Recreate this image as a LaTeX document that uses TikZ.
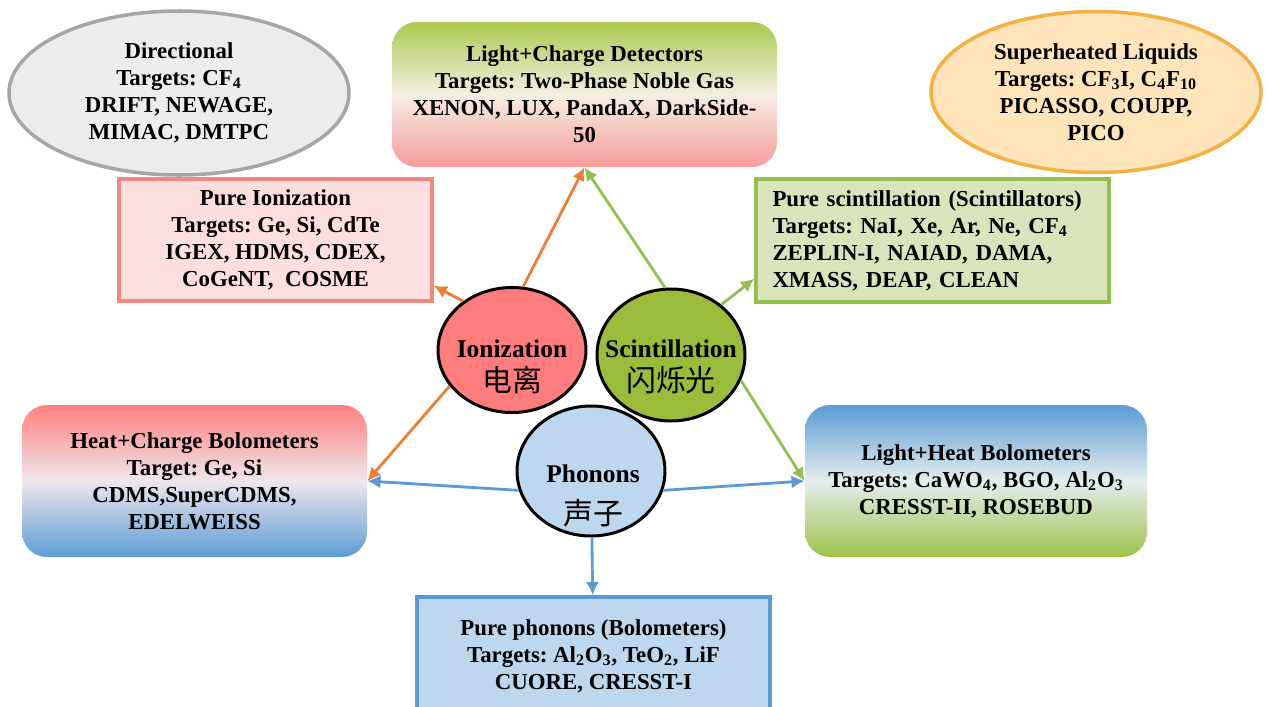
\documentclass[tikz,border=0pt]{standalone}
\usepackage{fontspec}
\setmainfont{Liberation Serif}
\newfontfamily\cjk{Noto Sans CJK SC}
\usetikzlibrary{shapes.geometric, arrows, arrows.meta}
\frenchspacing

\definecolor{ionred}{HTML}{FF7C7C}
\definecolor{scingreen}{HTML}{9BBB3B}
\definecolor{phonblue}{HTML}{BDD7EE}
\definecolor{arrorange}{HTML}{ED7D31}
\definecolor{arrgreen}{HTML}{92C050}
\definecolor{arrblue}{HTML}{5B9BD5}

\tikzstyle{channel} = [ellipse, draw=black, line width=1.7pt, minimum width=2.96cm, minimum height=2.5cm]
\tikzstyle{chantext} = [align=center, font=\fontsize{14.5}{19}\selectfont\bfseries]
\tikzstyle{expbox} = [rectangle, align=center, line width=2pt, font=\fontsize{13}{15.4}\selectfont\bfseries]
\tikzstyle{gradbox} = [rectangle, rounded corners=0.5cm, align=center, font=\fontsize{13}{15.4}\selectfont\bfseries]
\tikzstyle{expoval} = [ellipse, align=center, line width=2pt, font=\fontsize{13}{15.4}\selectfont\bfseries]
\tikzstyle{arrowo} = [line width=1.6pt, draw=arrorange, ->, >={Latex[length=7.5pt, width=7.5pt]}]
\tikzstyle{arrowg} = [line width=1.6pt, draw=arrgreen, ->, >={Latex[length=7.5pt, width=7.5pt]}]
\tikzstyle{arrowb} = [line width=1.6pt, draw=arrblue, ->, >={Latex[length=7.5pt, width=7.5pt]}]

\newcommand{\zh}[1]{{\cjk\fontsize{17}{19}\selectfont\mdseries #1}}

\begin{document}
\begin{tikzpicture}[node distance=5cm]

        \useasboundingbox (0,0) rectangle (25.36,-14.14);

        % the three signal channels
        \node (ion) [channel, fill=ionred] at (10.24,-7.0) {};
        \node (scin) [channel, fill=scingreen, minimum height=2.64cm, right of=ion, xshift=-1.82cm, yshift=-0.1cm] {};
        \node (phon) [channel, fill=phonblue, minimum height=2.6cm, below of=ion, xshift=1.58cm, yshift=2.58cm] {};

        \node (iontext) [chantext] at ([yshift=-0.34cm]ion) {Ionization\\\zh{电离}};
        \node (scintext) [chantext] at ([yshift=-0.24cm]scin) {Scintillation\\\zh{闪烁光}};
        \node (phontext) [chantext] at ([xshift=0.04cm, yshift=-0.5cm]phon) {Phonons\\[5pt]\zh{声子}};

        % detectors
        \node (lcd) [gradbox, minimum width=7.7cm, minimum height=2.9cm, top color={rgb,255:red,169;green,201;blue,79}, bottom color={rgb,255:red,246;green,156;blue,156}, middle color={rgb,255:red,245;green,238;blue,226}, above of=ion, xshift=1.45cm, yshift=0.11cm] {Light+Charge Detectors\\Targets: Two-Phase Noble Gas\\XENON, LUX, PandaX, DarkSide-\\50};
        \node (dir) [expoval, draw={rgb,255:red,166;green,166;blue,166}, fill={rgb,255:red,236;green,236;blue,236}, minimum width=6.8cm, minimum height=3.28cm, left of=lcd, xshift=-3.11cm, yshift=0.03cm] {Directional\\Targets: CF\textsubscript{4}\\DRIFT, NEWAGE,\\MIMAC, DMTPC};
        \node (sup) [expoval, draw={rgb,255:red,245;green,176;blue,65}, fill={rgb,255:red,253;green,228;blue,187}, minimum width=6.6cm, minimum height=3.22cm, right of=lcd, xshift=5.23cm, yshift=0.05cm] {Superheated Liquids\\Targets: CF\textsubscript{3}I, C\textsubscript{4}F\textsubscript{10}\\PICASSO, COUPP,\\PICO};
        \node (pion) [expbox, draw={rgb,255:red,242;green,135;blue,128}, fill={rgb,255:red,253;green,222;blue,222}, minimum width=6.26cm, minimum height=2.44cm, below of=dir, xshift=1.93cm, yshift=2.06cm] {Pure Ionization\\Targets: Ge, Si, CdTe\\IGEX, HDMS, CDEX,\\CoGeNT,\ \ COSME};
        \node (pscin) [expbox, draw=arrgreen, fill={rgb,255:red,216;green,228;blue,188}, minimum width=7.06cm, minimum height=2.46cm, text width=6.4cm, align=left, below of=sup, xshift=-3.27cm, yshift=2.03cm] {Pure scintillation (Scintillators)\\Targets: NaI, Xe, Ar, Ne, CF\textsubscript{4}\\ZEPLIN-I, NAIAD, DAMA,\\XMASS, DEAP, CLEAN};
        \node (hcb) [gradbox, minimum width=6.9cm, minimum height=3.04cm, top color={rgb,255:red,255;green,127;blue,127}, bottom color={rgb,255:red,91;green,155;blue,213}, middle color={rgb,255:red,239;green,230;blue,236}, left of=phon, xshift=-2.93cm, yshift=-0.2cm] {Heat+Charge Bolometers\\Target: Ge, Si\\CDMS,SuperCDMS,\\EDELWEISS};
        \node (lhb) [gradbox, minimum width=6.84cm, minimum height=3.04cm, top color={rgb,255:red,91;green,155;blue,213}, bottom color={rgb,255:red,157;green,195;blue,74}, middle color={rgb,255:red,228;green,237;blue,237}, right of=phon, xshift=2.7cm, yshift=-0.2cm] {Light+Heat Bolometers\\Targets: CaWO\textsubscript{4}, BGO, Al\textsubscript{2}O\textsubscript{3}\\CRESST-II, ROSEBUD};
        \node (pphon) [expbox, draw=arrblue, fill=phonblue, minimum width=7.06cm, minimum height=2.36cm, below of=phon, xshift=0.05cm, yshift=1.3cm] {Pure phonons (Bolometers)\\Targets: Al\textsubscript{2}O\textsubscript{3}, TeO\textsubscript{2}, LiF\\CUORE, CRESST-I};

        \draw [arrowo] (ion.80) -- (lcd.south);
        \draw [arrowo] (ion.135) -- ([yshift=0.34cm]pion.south east);
        \draw [arrowo] (ion.210) -- (hcb.east);
        \draw [arrowg] (scin.95) -- (lcd.south);
        \draw [arrowg] (scin.45) -- ([yshift=0.5cm]pscin.south west);
        \draw [arrowg] (scin.-20) -- (lhb.west);
        \draw [arrowb] (phon.195) -- (hcb.east);
        \draw [arrowb] (phon.-15) -- (lhb.west);
        \draw [arrowb] (phon) -- (pphon);

    \end{tikzpicture}
\end{document}
